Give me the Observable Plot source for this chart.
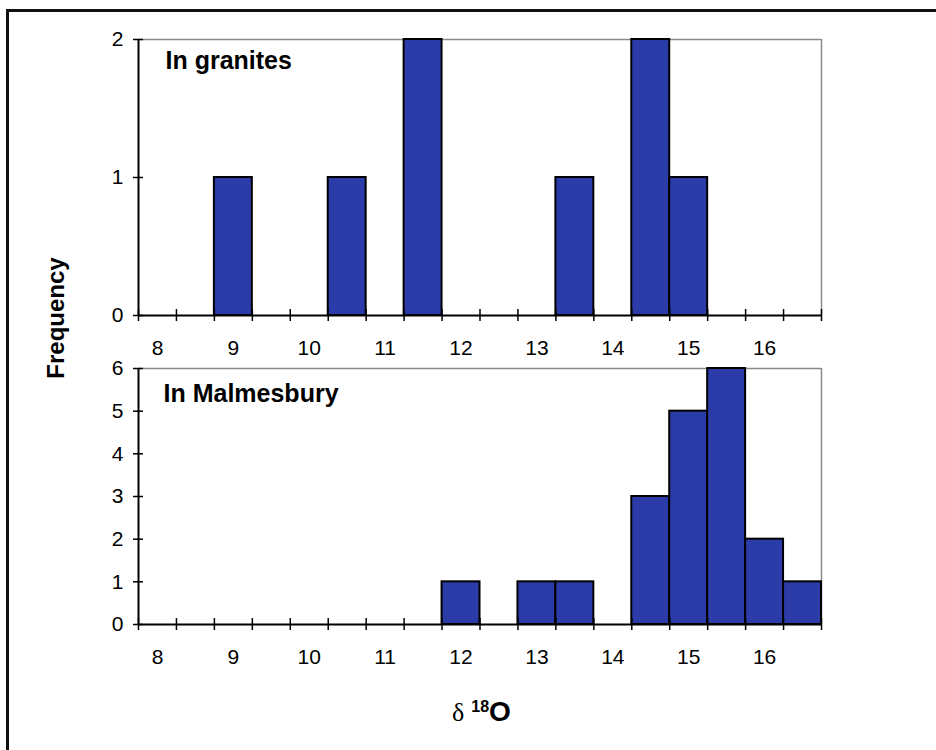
<!DOCTYPE html>
<html>
<head>
<meta charset="utf-8">
<script src="https://cdn.jsdelivr.net/npm/d3@7"></script>
<script src="https://cdn.jsdelivr.net/npm/@observablehq/plot@0.6"></script>
<style>
  html, body { margin: 0; padding: 0; background: #fff; overflow: hidden; }
  #chart { position: relative; width: 936px; height: 750px; overflow: hidden; background: #fff; }
  #frame { position: absolute; left: 6px; top: 9px; width: 1000px; height: 800px;
           border-left: 3px solid #111; border-top: 3px solid #111; }
  .panel { position: absolute; left: 0; }
  .panel g[aria-label$="tick label"], .panel g[aria-label$="tick label"] text { font-size: 21px !important; }
  #ylabel { position: absolute; left: 56px; top: 318px; transform: translate(-50%, -50%) rotate(-90deg);
            font: bold 24px 'Liberation Sans', Arial, sans-serif; white-space: nowrap; }
  #xlabel { position: absolute; left: 452px; top: 696px; white-space: nowrap; line-height: 30px; }
  #xlabel .d { font: 26px 'Liberation Serif', 'Times New Roman', serif; }
  #xlabel .s { font: bold 16px 'Liberation Sans', Arial, sans-serif; position: relative; top: -9px; margin-left: 7px; }
  #xlabel .o { font: bold 28px 'Liberation Sans', Arial, sans-serif; }
</style>
</head>
<body>
<div id="chart">
  <div id="frame"></div>
  <div id="top" class="panel" style="top:0px"></div>
  <div id="bottom" class="panel" style="top:360px"></div>
  <div id="ylabel">Frequency</div>
  <div id="xlabel"><span class="d">δ</span><span class="s">18</span><span class="o">O</span></div>
</div>
<script>
// δ18O histogram bins (0.5 wide), labelled by bin centre
const binCenters = [8, 8.5, 9, 9.5, 10, 10.5, 11, 11.5, 12, 12.5, 13, 13.5, 14, 14.5, 15, 15.5, 16, 16.5];
const xTickLabels = [8, 9, 10, 11, 12, 13, 14, 15, 16];

// counts per bin
const granitesCounts   = [0, 0, 1, 0, 0, 1, 0, 2, 0, 0, 0, 1, 0, 2, 1, 0, 0, 0];
const malmesburyCounts = [0, 0, 0, 0, 0, 0, 0, 0, 1, 0, 1, 1, 0, 3, 5, 6, 2, 1];

const granitesYTicks   = [0, 1, 2];
const malmesburyYTicks = [0, 1, 2, 3, 4, 5, 6];

const halfBin = 0.25;
const binEdges = [...binCenters.map(c => c - halfBin), binCenters[binCenters.length - 1] + halfBin];
const xMin = binEdges[0];
const xMax = binEdges[binEdges.length - 1];

const barFill = "#2b3ca8";

function histogramPanel({counts, yTicks, title, height, marginTop, marginBottom, titleDx, titleDy}) {
  const yMax = yTicks[yTicks.length - 1];
  const rows = binCenters.map((c, i) => ({center: c, count: counts[i]})).filter(d => d.count > 0);
  return Plot.plot({
    width: 936,
    height,
    marginLeft: 138,
    marginRight: 115,
    marginTop,
    marginBottom,
    style: {fontFamily: "'Liberation Sans', Arial, sans-serif", fontSize: "21px", color: "#000", background: "transparent", overflow: "visible"},
    x: {domain: [xMin, xMax]},
    y: {domain: [0, yMax]},
    marks: [
      // plot-area border (top and right)
      Plot.ruleY([yMax], {stroke: "#8a8a8a", strokeWidth: 1.5}),
      Plot.ruleX([xMax], {stroke: "#8a8a8a", strokeWidth: 1.5}),
      // bars
      Plot.rectY(rows, {
        x1: d => d.center - halfBin,
        x2: d => d.center + halfBin,
        y: "count",
        fill: barFill,
        stroke: "#000",
        strokeWidth: 2
      }),
      // axis lines
      Plot.ruleY([0], {stroke: "#000", strokeWidth: 2}),
      Plot.ruleX([xMin], {stroke: "#000", strokeWidth: 2}),
      // crossing tick marks at bin edges and count values
      Plot.ruleX(binEdges, {x: d => d, y1: 0, y2: 0, insetTop: -6, insetBottom: -6, stroke: "#000", strokeWidth: 1.5}),
      Plot.ruleY(yTicks, {y: d => d, x1: xMin, x2: xMin, insetLeft: -5, insetRight: -5, stroke: "#000", strokeWidth: 1.5}),
      // tick labels
      Plot.axisX(xTickLabels, {tickSize: 0, tickPadding: 25, label: null, tickFormat: d => String(d)}),
      Plot.axisY(yTicks, {tickSize: 0, tickPadding: 15, label: null, tickFormat: d => String(d)}),
      // panel title
      Plot.text([title], {
        frameAnchor: "top-left",
        dx: titleDx,
        dy: titleDy,
        text: d => d,
        fontSize: 25,
        fontWeight: "bold",
        textAnchor: "start",
        lineAnchor: "top"
      })
    ]
  });
}

document.getElementById("top").append(histogramPanel({
  counts: granitesCounts,
  yTicks: granitesYTicks,
  title: "In granites",
  height: 360,
  marginTop: 39,
  marginBottom: 45,
  titleDx: 27,
  titleDy: 12
}));

document.getElementById("bottom").append(histogramPanel({
  counts: malmesburyCounts,
  yTicks: malmesburyYTicks,
  title: "In Malmesbury",
  height: 340,
  marginTop: 8,
  marginBottom: 76,
  titleDx: 25,
  titleDy: 16
}));
</script>
</body>
</html>
